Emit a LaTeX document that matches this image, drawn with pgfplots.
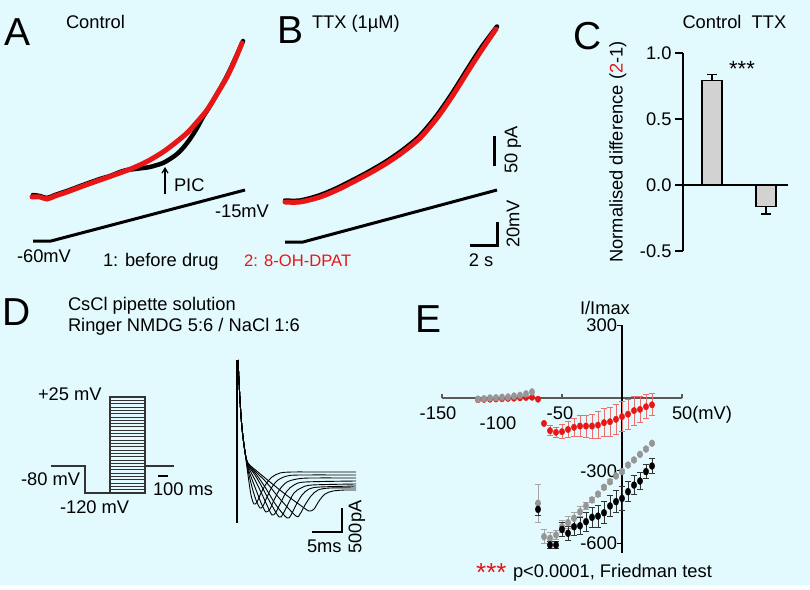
\documentclass[border=0pt]{standalone}
\usepackage{pgfplots}
\pgfplotsset{compat=1.18}
\usetikzlibrary{arrows.meta}
\usepackage{fontspec}
\setmainfont{Liberation Sans}
\definecolor{bg}{RGB}{226,249,253}
\definecolor{myred}{RGB}{232,22,22}
\definecolor{lred}{RGB}{238,110,110}
\definecolor{dotgray}{RGB}{150,150,150}
\definecolor{errgray}{RGB}{165,165,165}
\definecolor{barfill}{RGB}{210,210,210}
\tikzset{t/.style={font=\fontsize{18.3}{20}\selectfont, inner sep=0pt, outer sep=0pt},
         big/.style={font=\fontsize{39}{40}\selectfont, inner sep=0pt, outer sep=0pt}}
\begin{document}
\begin{tikzpicture}[x=1pt,y=1pt]
\useasboundingbox (0,0) rectangle (810,589);
\fill[white] (0,0) rectangle (810,589);
\fill[bg] (0,4) rectangle (810,589);

% ---------------- canvas axis (pixel coordinates) ----------------
\begin{axis}[at={(0pt,0pt)}, anchor=south west, scale only axis, width=810pt, height=589pt,
  xmin=0, xmax=810, ymin=0, ymax=589, y dir=reverse, axis lines=none, clip=false,
  unbounded coords=jump]
% Panel A traces
\addplot[black, line width=4.5pt, smooth, tension=0.5, line cap=round] coordinates {
(33,195) (40,196) (47,198) (55,195) (67,191) (83,185) (100,179) (110,176) (120,172) (127,170)
(135,169) (143,168) (150,167) (157,165) (163,163) (170,159) (177,154) (183,148) (190,139)
(197,128) (203,117) (210,106) (217,94) (227,76) (235,59) (243,41)};
\addplot[myred, line width=5pt, smooth, tension=0.5, line cap=round] coordinates {
(32,197) (40,197) (47,199) (55,196) (67,192) (83,186) (100,180) (117,174) (133,168) (148,161)
(163,152) (175,143) (187,133) (197,122) (207,110) (217,94) (227,77) (235,60) (242,43)};
\addplot[black, line width=3pt] coordinates {(33,241) (51,241) (245,190)};
\addplot[black, line width=1.2pt, -{Straight Barb[length=5pt,width=6pt]}] coordinates {(165,194) (165,167)};
\node[big, anchor=base west] at (axis cs:5,45) {A};
\node[t, anchor=base west] at (axis cs:66,28) {Control};
\node[t, anchor=base west] at (axis cs:174,191) {PIC};
\node[t, anchor=base west] at (axis cs:215,217) {-15mV};
\node[t, anchor=base west] at (axis cs:17,262) {-60mV};
\node[t, anchor=base west] at (axis cs:103,266) {1: before drug};
\node[font=\fontsize{16.6}{18}\selectfont, inner sep=0pt, anchor=base west, text=myred] at (axis cs:244,266) {2: 8-OH-DPAT};

% Panel B traces
\addplot[black, line width=4.5pt, smooth, tension=0.5, line cap=round] coordinates {
(285,200.5) (300,200.5) (319,195.5) (336,188.5) (352,180.5) (369,171.5) (386,161.5) (402,150.5)
(419,136.5) (436,116.5) (452,93.5) (469,66.5) (482,46.5) (497,26.5)};
\addplot[myred, line width=5pt, smooth, tension=0.5, line cap=round] coordinates {
(285,202) (300,202) (320,197) (337,190) (353,182) (370,173) (387,163) (403,152) (420,138)
(437,118) (453,95) (470,68) (483,48) (496,29)};
\addplot[black, line width=3pt] coordinates {(285,242) (303,242) (497,190)};
\addplot[black, line width=3pt] coordinates {(494,136) (494,166)};
\addplot[black, line width=3pt] coordinates {(497,222) (497,245) (470,245)};
\node[big, anchor=base west] at (axis cs:277,43) {B};
\node[t, anchor=base west] at (axis cs:312,28) {TTX (1µM)};
\node[t, rotate=90] at (axis cs:513,150) {50 pA};
\node[t, rotate=90] at (axis cs:513,224) {20mV};
\node[t, anchor=base] at (axis cs:481,266) {2 s};

% Panel C texts
\node[big, anchor=base west] at (axis cs:573,49) {C};
\node[t, anchor=base] at (axis cs:712,28) {Control};
\node[t, anchor=base] at (axis cs:769,28) {TTX};
\node[t, rotate=90] at (axis cs:618,152) {Normalised difference (\textcolor{myred}{2}-1)};
\node[font=\fontsize{22}{24}\selectfont, inner sep=0pt, anchor=base] at (axis cs:742,76) {***};

% Panel D
\node[big, anchor=base west] at (axis cs:2,325) {D};
\node[t, anchor=base west] at (axis cs:68,310) {CsCl pipette solution};
\node[t, anchor=base west] at (axis cs:68,331) {Ringer NMDG 5:6 / NaCl 1:6};
\addplot[black!80, line width=1.3pt] coordinates {(51,466) (85,466) (85,493) (110,493)};
\addplot[black!80, line width=1.3pt] coordinates {(110,493) (110,397) (145,397) (145,493) (110,493)};
\addplot[black!80, line width=1.3pt] coordinates {(145,466) (174,466)};
\addplot[black!80, line width=0.8pt] coordinates {
(110,489.7) (145,489.7) (110,nan) (110,486.4) (145,486.4) (110,nan) (110,483.1) (145,483.1) (110,nan)
(110,479.8) (145,479.8) (110,nan) (110,476.4) (145,476.4) (110,nan) (110,473.1) (145,473.1) (110,nan)
(110,469.8) (145,469.8) (110,nan) (110,466.5) (145,466.5) (110,nan) (110,463.2) (145,463.2) (110,nan)
(110,459.9) (145,459.9) (110,nan) (110,456.6) (145,456.6) (110,nan) (110,453.3) (145,453.3) (110,nan)
(110,450.0) (145,450.0) (110,nan) (110,446.7) (145,446.7) (110,nan) (110,443.3) (145,443.3) (110,nan)
(110,440.0) (145,440.0) (110,nan) (110,436.7) (145,436.7) (110,nan) (110,433.4) (145,433.4) (110,nan)
(110,430.1) (145,430.1) (110,nan) (110,426.8) (145,426.8) (110,nan) (110,423.5) (145,423.5) (110,nan)
(110,420.2) (145,420.2) (110,nan) (110,416.9) (145,416.9) (110,nan) (110,413.6) (145,413.6) (110,nan)
(110,410.2) (145,410.2) (110,nan) (110,406.9) (145,406.9) (110,nan) (110,403.6) (145,403.6) (110,nan)
(110,400.3) (145,400.3)};
\addplot[black, line width=2.5pt] coordinates {(158,476) (168,476)};
\node[t, anchor=base west] at (axis cs:38,400) {+25 mV};
\node[t, anchor=base west] at (axis cs:21,485) {-80 mV};
\node[t, anchor=base west] at (axis cs:60,513) {-120 mV};
\node[t, anchor=base west] at (axis cs:153,495) {100 ms};
% current traces
\addplot[black, line width=1.4pt] coordinates {(237,360) (237,523)};
\addplot[black, line width=0.9pt, smooth] coordinates {(238,360) (240,400) (242,428) (245,452) (248,475) (251,495) (254,504) (257,502) (261,493) (266,484) (272,477) (280,473) (292,472) (320,472) (356,472)};
\addplot[black, line width=0.9pt, smooth] coordinates {(238,360) (240,400) (242,428) (245,452) (248,470) (252,487) (256,500) (260,508) (263,506) (267,497) (272,487) (278,480) (287,476) (300,475) (356,475)};
\addplot[black, line width=0.9pt, smooth] coordinates {(238,360) (240,400) (242,428) (245,452) (248,468) (253,482) (258,495) (262,505) (266,512) (270,509) (274,500) (280,489) (287,482) (297,479) (310,478) (356,478)};
\addplot[black, line width=0.9pt, smooth] coordinates {(238,360) (240,400) (242,428) (245,452) (248,466) (254,478) (260,490) (266,503) (272,515) (276,512) (281,502) (287,491) (294,485) (305,482) (356,481)};
\addplot[black, line width=0.9pt, smooth] coordinates {(238,360) (240,400) (242,428) (245,452) (248,465) (255,475) (262,487) (270,502) (279,517) (283,514) (288,504) (294,493) (301,488) (312,485) (356,484)};
\addplot[black, line width=0.9pt, smooth] coordinates {(238,360) (240,400) (242,428) (245,452) (248,464) (256,474) (265,487) (276,505) (287,518) (291,515) (296,505) (302,495) (309,489) (320,487) (356,486)};
\addplot[black, line width=0.9pt, smooth] coordinates {(238,360) (240,400) (242,428) (245,452) (248,464) (257,473) (267,483) (280,499) (296,516) (300,514) (305,505) (311,496) (318,490) (330,488) (356,488)};
\addplot[black, line width=0.9pt, smooth] coordinates {(238,360) (240,400) (242,428) (245,452) (248,463) (258,472) (270,482) (285,494) (300,505) (309,511) (314,509) (319,501) (325,494) (333,491) (345,490) (356,490)};
\addplot[black, line width=2.5pt] coordinates {(342,508) (342,532) (312,532)};
\node[t, anchor=base west] at (axis cs:307,552) {5ms};
\node[t, rotate=90] at (axis cs:357,527) {500pA};

% Panel E texts
\node[big, anchor=base west] at (axis cs:415,332) {E};
\node[t, anchor=base west] at (axis cs:580,314) {I/Imax};
\node[font=\fontsize{26}{28}\selectfont, inner sep=0pt, anchor=base west, text=myred] at (axis cs:476,581) {***};
\node[t, anchor=base west] at (axis cs:513,577) {p<0.0001, Friedman test};
\end{axis}

% ---------------- Panel C bar chart ----------------
\begin{axis}[at={(683pt,338pt)}, anchor=south west, scale only axis, width=105pt, height=198pt,
  xmin=-0.537, xmax=1.407, ymin=-0.5, ymax=1.0,
  axis y line*=left, axis x line*=middle, xtick=\empty, ytick={-0.5,0,0.5,1},
  yticklabel style={font=\fontsize{18.3}{20}\selectfont, /pgf/number format/.cd, fixed, fixed zerofill, precision=1, assume math mode=true},
  tick align=outside, major tick length=8pt,
  axis line style={line width=1.1pt, -}, tick style={line width=1.1pt, black},
  ybar, bar width=20pt, clip=false]
\addplot[fill=barfill, draw=black, line width=1.2pt,
  error bars/.cd, y dir=both, y explicit,
  error bar style={line width=1.2pt, black},
  error mark options={rotate=90, mark size=5pt, line width=1.2pt, black}]
  coordinates {(0,0.79) += (0,0.05) -= (0,0) (1,-0.16) += (0,0) -= (0,0.06)};
\end{axis}

% ---------------- Panel E I/V ----------------
\begin{axis}[at={(442pt,36.1pt)}, anchor=south west, scale only axis, width=240pt, height=227.5pt,
  xmin=-150, xmax=50, ymin=-640, ymax=300,
  axis x line=middle, axis y line=middle, xtick=\empty, ytick=\empty,
  x axis line style={draw=black!65, line width=2.2pt, -},
  y axis line style={draw=black, line width=1.6pt, -}, clip=false]
% ticks
\addplot[black!65, line width=1.4pt, unbounded coords=jump] coordinates {(-150,0) (-150,16) (-150,nan) (-100,0) (-100,16) (-100,nan) (-50,0) (-50,16) (-50,nan) (50,0) (50,16)};
\addplot[black, line width=1.4pt, unbounded coords=jump] coordinates {(-4.2,300) (0,300) (0,nan) (-4.2,-300) (0,-300) (0,nan) (-4.2,-600) (0,-600)};
% red series: points without visible error bars
\addplot[color=myred, only marks, mark=*, mark size=2.7pt, mark options={yscale=1.2, fill=myred, draw=none}]
  coordinates {(-120,-7) (-115,-6) (-110,-5) (-105,-4) (-100,-3) (-95,-2) (-90,-1) (-85,1) (-80,2) (-75,3)
  (-70,-5) (-65,-105)};
% red series with error bars
\addplot[color=myred, only marks, mark=*, mark size=2.7pt, mark options={yscale=1.2, fill=myred, draw=none},
  error bars/.cd, y dir=both, y explicit,
  error bar style={line width=0.9pt, lred},
  error mark options={rotate=90, mark size=3.2pt, line width=0.9pt, lred}]
  coordinates {
  (-60,-135) +- (0,20) (-55,-142) +- (0,22) (-50,-139) +- (0,28) (-45,-130) +- (0,32)
  (-40,-121) +- (0,38) (-35,-116) +- (0,42) (-30,-116) +- (0,45) (-25,-116) +- (0,50)
  (-20,-112) +- (0,55) (-15,-102) +- (0,58) (-10,-98) +- (0,60) (-5,-88) +- (0,62)
  (0,-77) +- (0,62) (5,-67) +- (0,62) (10,-52) +- (0,60) (15,-47) +- (0,55)
  (20,-36) +- (0,50) (25,-28) +- (0,45)};
% gray series
\addplot[color=dotgray, only marks, mark=*, mark size=2.7pt, mark options={yscale=1.3, fill=dotgray, draw=none}]
  coordinates {(-120,-5) (-115,-3) (-110,0) (-105,1) (-100,3) (-95,4) (-90,8) (-85,11) (-80,17) (-75,25)};
\addplot[color=dotgray, only marks, mark=*, mark size=2.7pt, mark options={yscale=1.3, fill=dotgray, draw=none},
  error bars/.cd, y dir=both, y explicit,
  error bar style={line width=0.9pt, errgray},
  error mark options={rotate=90, mark size=3.2pt, line width=0.9pt, errgray}]
  coordinates {
  (-70,-435) +- (0,79) (-65,-573) +- (0,28) (-60,-580) +- (0,25) (-55,-566) +- (0,20)
  (-50,-532) +- (0,25) (-45,-515) +- (0,25) (-40,-497) +- (0,25) (-35,-470) +- (0,20)
  (-30,-446) +- (0,15) (-25,-421) +- (0,10) (-20,-397) +- (0,8) (-15,-369) +- (0,8)
  (-10,-346) +- (0,8) (-5,-322) +- (0,8) (0,-304) +- (0,8) (5,-277) +- (0,5)
  (10,-256) +- (0,5) (15,-233) +- (0,5) (20,-211) +- (0,5) (25,-187) +- (0,5)};
% black series
\addplot[color=black, only marks, mark=*, mark size=2.7pt, mark options={yscale=1.3, fill=black, draw=none},
  error bars/.cd, y dir=both, y explicit,
  error bar style={line width=0.9pt, black!80},
  error mark options={rotate=90, mark size=3.2pt, line width=0.9pt, black!80}]
  coordinates {
  (-70,-460) +- (0,25) (-60,-607) +- (0,15) (-55,-607) +- (0,15) (-50,-543) +- (0,30)
  (-45,-559) +- (0,30) (-40,-532) +- (0,35) (-35,-528) +- (0,35) (-30,-511) +- (0,40)
  (-25,-493) +- (0,40) (-20,-488) +- (0,45) (-15,-474) +- (0,45) (-10,-446) +- (0,45)
  (-5,-428) +- (0,45) (0,-415) +- (0,48) (5,-387) +- (0,42) (10,-360) +- (0,38)
  (15,-343) +- (0,35) (20,-304) +- (0,30) (25,-281) +- (0,31)};
% tick labels
\node[t, anchor=base] at (axis cs:-153.3,-87) {-150};
\node[t, anchor=base] at (axis cs:-103.3,-130) {-100};
\node[t, anchor=base] at (axis cs:-51.7,-87) {-50};
\node[t, anchor=base west] at (axis cs:41.7,-87) {50(mV)};
\node[t, anchor=east] at (axis cs:-4.2,300) {300};
\node[t, anchor=east] at (axis cs:-4.2,-302) {-300};
\node[t, anchor=east] at (axis cs:-4.2,-600) {-600};
\end{axis}
\end{tikzpicture}
\end{document}
